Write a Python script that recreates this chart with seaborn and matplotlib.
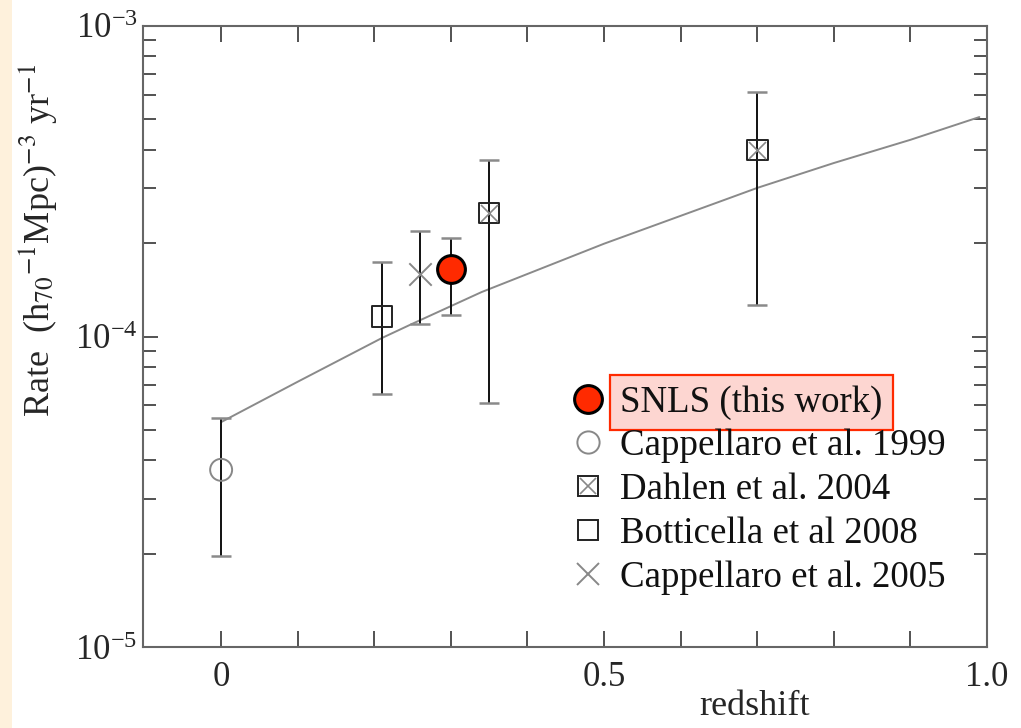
import numpy as np
import pandas as pd
import matplotlib
matplotlib.use("Agg")
import matplotlib.pyplot as plt
import seaborn as sns
from matplotlib.lines import Line2D
from matplotlib.legend_handler import HandlerTuple
from matplotlib.patches import Rectangle
from matplotlib.ticker import FixedLocator, LogLocator, NullFormatter, LogFormatterMathtext

# ---- data ----
snls_z = [0.30]
snls_rate = [1.65e-4]
snls_lo = [1.17e-4]
snls_hi = [2.08e-4]

capp99_z = [0.0]
capp99_rate = [3.72e-5]
capp99_lo = [1.96e-5]
capp99_hi = [5.46e-5]

dahlen_z = [0.35, 0.70]
dahlen_rate = [2.50e-4, 3.99e-4]
dahlen_lo = [6.1e-5, 1.26e-4]
dahlen_hi = [3.70e-4, 6.13e-4]

bott_z = [0.21]
bott_rate = [1.16e-4]
bott_lo = [6.53e-5]
bott_hi = [1.74e-4]

capp05_z = [0.26]
capp05_rate = [1.59e-4]
capp05_lo = [1.10e-4]
capp05_hi = [2.19e-4]

curve_z = [0.0, 0.10, 0.21, 0.25, 0.34, 0.50, 0.66, 0.70, 0.80, 0.90, 0.99]
curve_rate = [5.30e-5, 7.15e-5, 9.89e-5, 1.10e-4, 1.39e-4, 1.99e-4, 2.77e-4,
              3.01e-4, 3.62e-4, 4.30e-4, 5.09e-4]

labels = ["SNLS (this work)", "Cappellaro et al. 1999", "Dahlen et al. 2004",
          "Botticella et al 2008", "Cappellaro et al. 2005"]
xtick_labels = ["0", "0.5", "1.0"]

# ---- style ----
sns.set_theme(style="ticks")
plt.rcParams["font.family"] = ["Liberation Serif", "DejaVu Serif"]
plt.rcParams["mathtext.fontset"] = "stix"
plt.rcParams["text.color"] = "#111111"

fig = plt.figure(figsize=(10.21, 7.28), dpi=100)
fig.patch.set_facecolor("white")
fig.patches.append(Rectangle((0, 0), 12 / 1021, 1, transform=fig.transFigure,
                             facecolor="#FEF1DC", edgecolor="none", zorder=-10))
ax = fig.add_axes([143 / 1021, 1 - 647 / 728, (987 - 143) / 1021, (647 - 26) / 728])

# curve
curve_df = pd.DataFrame({"z": curve_z, "rate": curve_rate})
sns.lineplot(data=curve_df, x="z", y="rate", ax=ax, color="#8a8a8a", lw=1.4,
             estimator=None, sort=True, zorder=2)

def errb(z, r, lo, hi):
    r = np.array(r); lo = np.array(lo); hi = np.array(hi)
    _, caps, bars = ax.errorbar(z, r, yerr=[r - lo, hi - r], fmt="none",
                                ecolor="#111111", elinewidth=1.4, capsize=7.5,
                                capthick=1.8, zorder=3)
    for c in caps:
        c.set_markeredgecolor("#8a8a8a")
        c.set_color("#8a8a8a")

errb(capp99_z, capp99_rate, capp99_lo, capp99_hi)
errb(dahlen_z, dahlen_rate, dahlen_lo, dahlen_hi)
errb(bott_z, bott_rate, bott_lo, bott_hi)
errb(capp05_z, capp05_rate, capp05_lo, capp05_hi)
errb(snls_z, snls_rate, snls_lo, snls_hi)

# markers
sns.scatterplot(x=capp99_z, y=capp99_rate, ax=ax, marker="o", s=250,
                facecolor="none", edgecolor="#888888", linewidth=1.4, zorder=4)
sns.scatterplot(x=dahlen_z, y=dahlen_rate, ax=ax, marker="s", s=220,
                facecolor="none", edgecolor="#222222", linewidth=1.4, zorder=4)
sns.scatterplot(x=dahlen_z, y=dahlen_rate, ax=ax, marker="x", s=150,
                color="#888888", linewidth=1.2, zorder=5)
sns.scatterplot(x=bott_z, y=bott_rate, ax=ax, marker="s", s=220,
                facecolor="none", edgecolor="#222222", linewidth=1.4, zorder=4)
sns.scatterplot(x=capp05_z, y=capp05_rate, ax=ax, marker="x", s=260,
                color="#888888", linewidth=1.4, zorder=4)
sns.scatterplot(x=snls_z, y=snls_rate, ax=ax, marker="o", s=400,
                facecolor="#FF2A00", edgecolor="black", linewidth=2.2, zorder=6)

# axes
ax.set_yscale("log")
ax.set_xlim(-0.102, 1.0)
ax.set_ylim(1e-5, 1e-3)
ax.xaxis.set_major_locator(FixedLocator([0, 0.5, 1.0]))
ax.set_xticklabels(xtick_labels)
ax.xaxis.set_minor_locator(FixedLocator([0.1, 0.2, 0.3, 0.4, 0.6, 0.7, 0.8, 0.9]))
ax.yaxis.set_major_locator(LogLocator(base=10, numticks=10))
ax.yaxis.set_major_formatter(LogFormatterMathtext())
ax.yaxis.set_minor_locator(LogLocator(base=10, subs=np.arange(2, 10), numticks=20))
ax.yaxis.set_minor_formatter(NullFormatter())

for s in ax.spines.values():
    s.set_color("#666666")
    s.set_linewidth(1.5)
ax.tick_params(axis="both", which="both", direction="in", top=True, right=True,
               color="#444444", width=1.3)
ax.tick_params(axis="x", which="both", length=11.5, labelsize=25, pad=10)
ax.tick_params(axis="y", which="major", length=11, labelsize=25, pad=4)
ax.tick_params(axis="y", which="minor", length=9.5)

ax.set_xlabel("redshift", fontsize=26)
ax.xaxis.set_label_coords(0.725, -0.110)
ax.xaxis.label.set_va("baseline")
ax.set_ylabel(r"Rate  (h$_{70}$$^{-1}$Mpc)$^{-3}$ yr$^{-1}$", fontsize=26)
ax.yaxis.set_label_coords(-0.100, 0.655)

# legend
h_snls = Line2D([], [], ls="none", marker="o", ms=20, mfc="#FF2A00", mec="black", mew=2.2)
h_c99 = Line2D([], [], ls="none", marker="o", ms=16, mfc="none", mec="#888888", mew=1.4)
h_d_sq = Line2D([], [], ls="none", marker="s", ms=15, mfc="none", mec="#222222", mew=1.4)
h_d_x = Line2D([], [], ls="none", marker="x", ms=12, mec="#888888", mew=1.2)
h_b = Line2D([], [], ls="none", marker="s", ms=15, mfc="none", mec="#222222", mew=1.4)
h_c05 = Line2D([], [], ls="none", marker="x", ms=16, mec="#888888", mew=1.4)
leg = ax.legend([h_snls, h_c99, (h_d_sq, h_d_x), h_b, h_c05], labels,
                handler_map={tuple: HandlerTuple(ndivide=1, pad=0)},
                loc="upper left", bbox_to_anchor=(570 / 1021, 1 - 385 / 728),
                bbox_transform=fig.transFigure, frameon=False, fontsize=26.6,
                handlelength=1.0, handletextpad=0.35, labelspacing=0.25,
                borderpad=0, borderaxespad=0)
leg.get_texts()[0].set_bbox(dict(boxstyle="square,pad=0.28", facecolor="#FDD6D1",
                                 edgecolor="#FF2A00", linewidth=1.6))

fig.savefig("out.png", dpi=100)
